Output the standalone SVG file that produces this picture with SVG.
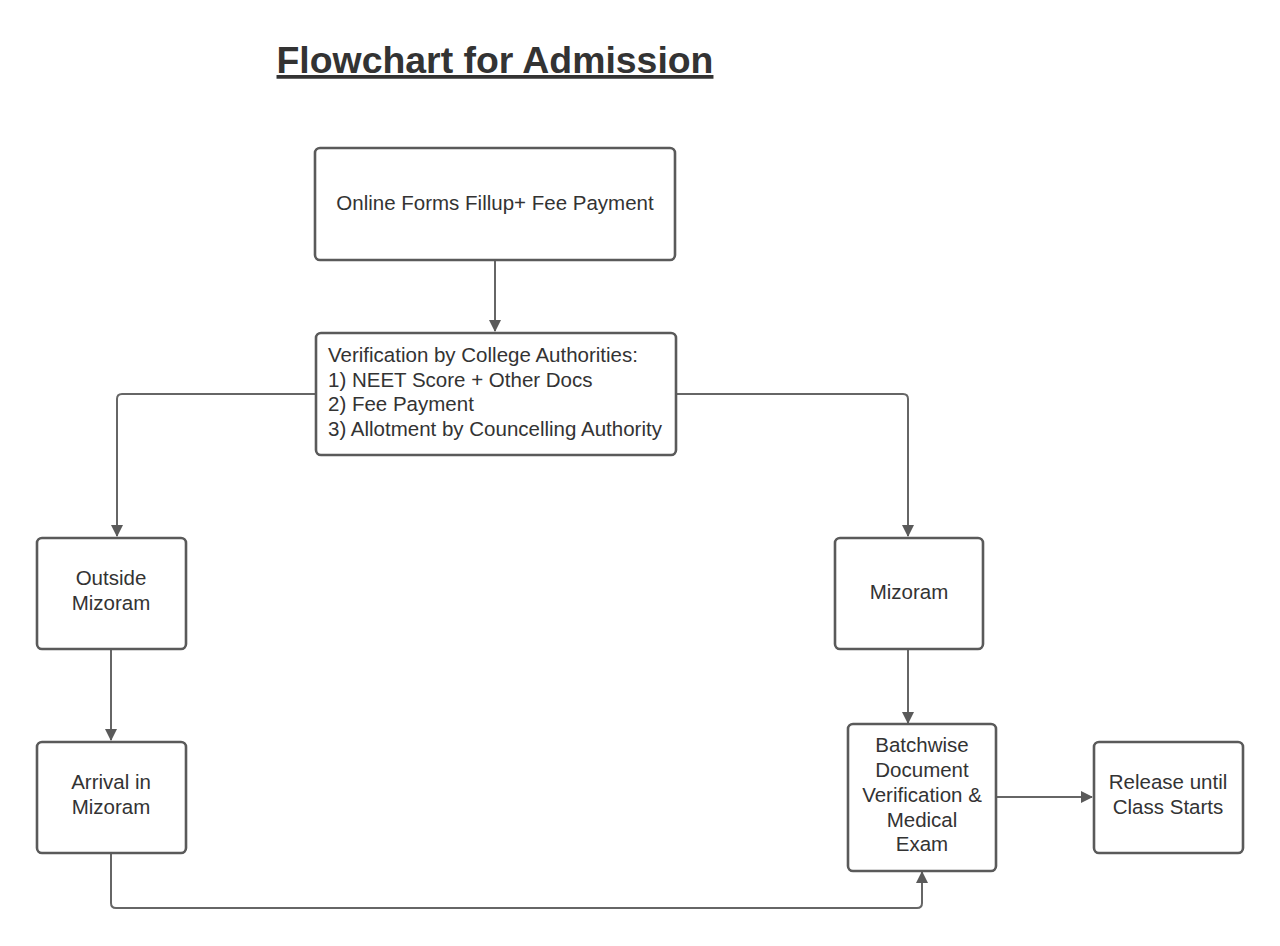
<svg xmlns="http://www.w3.org/2000/svg" width="1280" height="946" viewBox="0 0 1280 946">
<style>
.box{fill:#fff;stroke:#5a5a5a;stroke-width:2.6}
.t{font-family:"Liberation Sans",Arial,sans-serif;font-size:20.5px;fill:#333}
.c{text-anchor:middle}
.ln{fill:none;stroke:#666;stroke-width:2}
</style>
<defs>
<marker id="ah" markerWidth="12" markerHeight="12" viewBox="0 0 12 12" refX="11" refY="6" orient="auto" markerUnits="userSpaceOnUse">
<path d="M0,0 L12,6 L0,12 z" fill="#5a5a5a"/>
</marker>
</defs>
<rect width="1280" height="946" fill="#fff"/>
<g id="title">
<text x="495" y="73" text-anchor="middle" font-family="'Liberation Sans',Arial,sans-serif" font-size="37.4" font-weight="bold" fill="#333" text-decoration="underline">Flowchart for Admission</text>
</g>
<g id="connectors">
<path class="ln" d="M495,261 V331" marker-end="url(#ah)"/>
<path class="ln" d="M316,394 H122 Q117,394 117,399 V536" marker-end="url(#ah)"/>
<path class="ln" d="M676,394 H903 Q908,394 908,399 V536" marker-end="url(#ah)"/>
<path class="ln" d="M111,649 V740" marker-end="url(#ah)"/>
<path class="ln" d="M908,649 V723" marker-end="url(#ah)"/>
<path class="ln" d="M996,797 H1092" marker-end="url(#ah)"/>
<path class="ln" d="M111,854 V903 Q111,908 116,908 H917 Q922,908 922,903 V872" marker-end="url(#ah)"/>
</g>
<g id="n1">
<rect class="box" x="315" y="148" width="360" height="112" rx="5"/>
<text class="t c" x="495" y="210">Online Forms Fillup+ Fee Payment</text>
</g>
<g id="n2">
<rect class="box" x="316" y="333" width="360" height="122" rx="5"/>
<text class="t" x="328" y="362">Verification by College Authorities:</text>
<text class="t" x="328" y="387">1) NEET Score + Other Docs</text>
<text class="t" x="328" y="411">2) Fee Payment</text>
<text class="t" x="328" y="436">3) Allotment by Councelling Authority</text>
</g>
<g id="n3">
<rect class="box" x="37" y="538" width="149" height="111" rx="5"/>
<text class="t c" x="111" y="585">Outside</text>
<text class="t c" x="111" y="610">Mizoram</text>
</g>
<g id="n4">
<rect class="box" x="835" y="538" width="148" height="111" rx="5"/>
<text class="t c" x="909" y="599">Mizoram</text>
</g>
<g id="n5">
<rect class="box" x="37" y="742" width="149" height="111" rx="5"/>
<text class="t c" x="111" y="789">Arrival in</text>
<text class="t c" x="111" y="814">Mizoram</text>
</g>
<g id="n6">
<rect class="box" x="848" y="724" width="148" height="147" rx="5"/>
<text class="t c" x="922" y="752">Batchwise</text>
<text class="t c" x="922" y="777">Document</text>
<text class="t c" x="922" y="802">Verification &amp;</text>
<text class="t c" x="922" y="827">Medical</text>
<text class="t c" x="922" y="851">Exam</text>
</g>
<g id="n7">
<rect class="box" x="1094" y="742" width="149" height="111" rx="5"/>
<text class="t c" x="1168" y="789">Release until</text>
<text class="t c" x="1168" y="814">Class Starts</text>
</g>
</svg>
